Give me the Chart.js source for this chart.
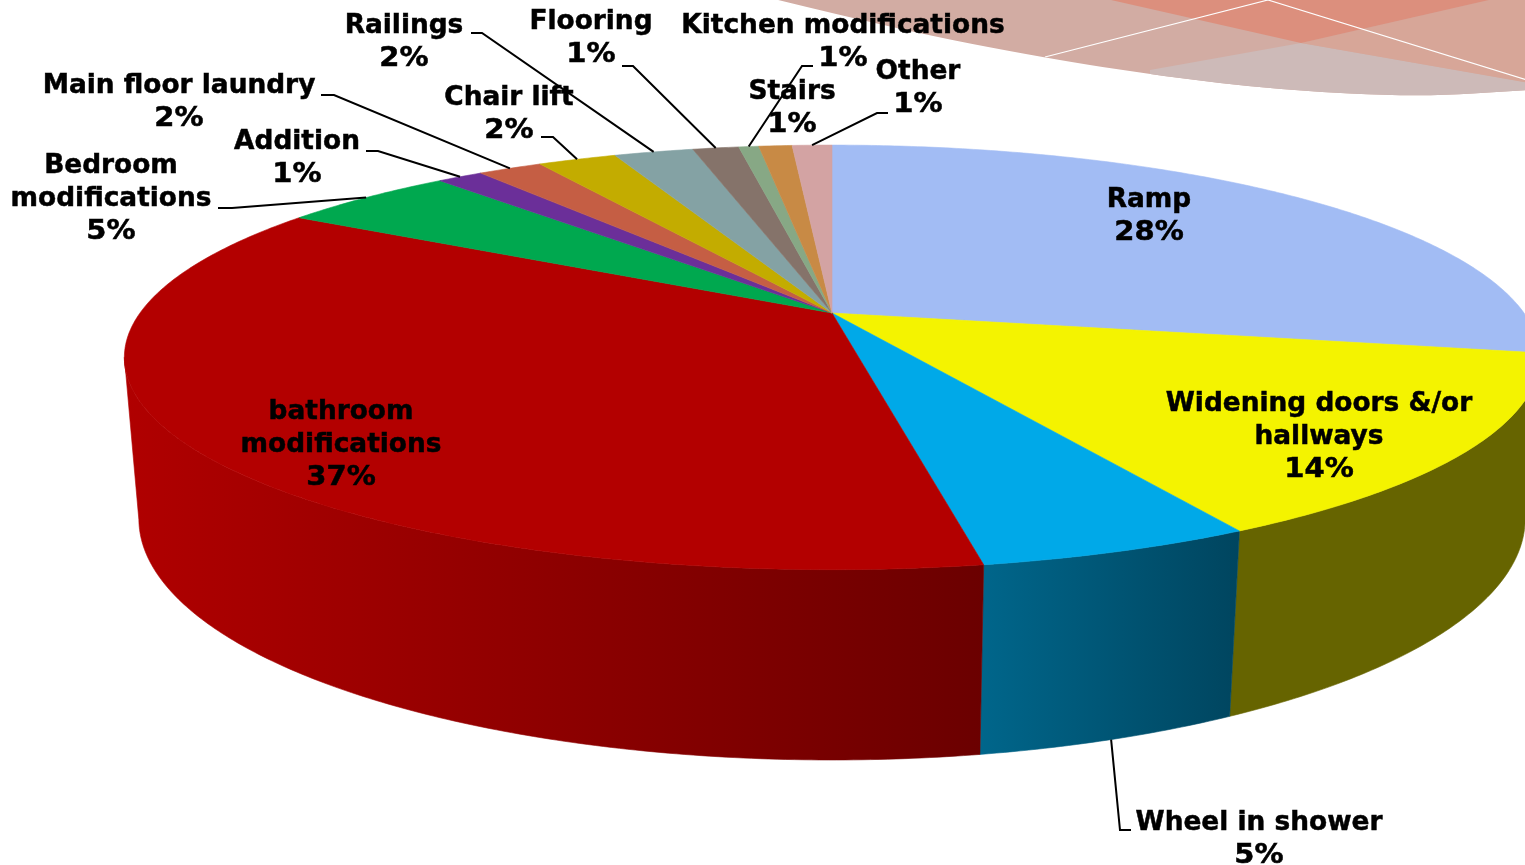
<!DOCTYPE html>
<html>

<head>
    <title>Home modifications</title>
    <style type="text/css">
        body {
            margin: 0;
            background: #fff;
        }

        canvas {
            display: block;
        }
    </style>
    <script src="https://cdn.jsdelivr.net/npm/chart.js@4/dist/chart.umd.js"></script>
</head>

<body>
    <canvas id="pieChart" width="1525" height="865"></canvas>
    <script>
        // values, clockwise from 12 o'clock
        var categories = ['Ramp', 'Widening doors &/or\nhallways', 'Wheel in shower', 'bathroom\nmodifications',
            'Bedroom\nmodifications', 'Addition', 'Main floor laundry', 'Chair lift', 'Railings', 'Flooring',
            'Kitchen modifications', 'Stairs', 'Other'];
        var shares = [28.02, 14.0, 5.2, 36.5, 4.9, 1.28, 1.8, 2.2, 2.22, 1.29, 0.56, 0.93, 1.11];

        var topColors = ['#a2bcf4', '#f4f300', '#00a9e8', '#b30000', '#00a84f', '#6b2f99', '#c55e44',
            '#c3ac00', '#84a2a4', '#85736a', '#87a885', '#c88a45', '#d3a3a3'];
        // side wall colours, left end and right end
        var sideFrom = ['#61718f', '#666400', '#00668b', '#b00000', '#00652f', '#401c5c', '#763829',
            '#756700', '#4f6162', '#50453f', '#516550', '#785329', '#7f6262'];
        var sideTo = ['#61718f', '#666400', '#00455f', '#6b0000', '#00652f', '#401c5c', '#763829',
            '#756700', '#4f6162', '#50453f', '#516550', '#785329', '#7f6262'];

        // label centre and first line middle, then the leader elbow (none for labels on the pie)
        var labelX = [1149, 1319, 1259, 341, 111, 297, 179, 509, 404, 591, 843, 792, 918];
        var labelY = [200, 404, 823, 412, 166, 142, 86, 98, 26, 22, 26, 92, 72];
        var leaders = [null, null, [[1131, 830], [1120, 830]], null, [[218, 208], [232, 208]], [[366, 151], [378, 151]],
            [[321, 95], [334, 95]], [[541, 137], [553, 137]], [[471, 33], [482, 33]], [[622, 66], [633, 66]],
            [[813, 66], [802, 66]], null, [[888, 113], [877, 113]]];

        // perspective of the tilted disc
        var apexX = 832, apexY = 313, spanX = 692, spanY = 203, tilt = 0.209, wallH = 159.5, wallShrink = 0.02;

        function project(angle, wall) {
            var u = Math.cos(angle), v = -Math.sin(angle);
            var d = 1 + tilt * v + (wall ? wallShrink : 0);
            return [apexX + spanX * u / d, apexY + (-spanY * v + (wall ? wallH : 0)) / d];
        }

        function rimPoints(start, end, wall) {
            var pts = [];
            var steps = Math.max(2, Math.ceil((end - start) / 0.01));
            for (var i = 0; i <= steps; i++) {
                pts.push(project(start + (end - start) * i / steps, wall));
            }
            return pts;
        }

        function drawBackdrop(ctx) {
            // slide decoration behind the chart, top right
            var edge = [[770, -2], [900, 30], [1045, 58], [1160, 76], [1280, 90], [1420, 97], [1525, 90]];
            ctx.save();
            ctx.beginPath();
            ctx.moveTo(edge[0][0], edge[0][1]);
            for (var i = 1; i < edge.length - 1; i++) {
                ctx.quadraticCurveTo(edge[i][0], edge[i][1], (edge[i][0] + edge[i + 1][0]) / 2, (edge[i][1] + edge[i + 1][1]) / 2);
            }
            ctx.lineTo(1530, 90);
            ctx.lineTo(1530, -2);
            ctx.closePath();
            ctx.clip();
            ctx.fillStyle = '#d2aca3';
            ctx.fillRect(760, 0, 770, 100);
            ctx.fillStyle = '#cdbab8';
            ctx.beginPath();
            ctx.moveTo(1150, 70); ctx.lineTo(1301, 43); ctx.lineTo(1525, 82); ctx.lineTo(1525, 100); ctx.lineTo(1150, 100);
            ctx.fill();
            ctx.fillStyle = '#d7a698';
            ctx.beginPath();
            ctx.moveTo(1301, 43); ctx.lineTo(1489, 0); ctx.lineTo(1530, 0); ctx.lineTo(1530, 83);
            ctx.fill();
            ctx.fillStyle = '#dc8f7d';
            ctx.beginPath();
            ctx.moveTo(1111, 0); ctx.lineTo(1301, 43); ctx.lineTo(1489, 0);
            ctx.fill();
            ctx.strokeStyle = '#fff';
            ctx.lineWidth = 1.2;
            ctx.beginPath();
            ctx.moveTo(1045, 57); ctx.lineTo(1268, 0); ctx.lineTo(1530, 81);
            ctx.stroke();
            ctx.restore();
        }

        function drawWalls(ctx, arcs) {
            arcs.forEach(function (arc, i) {
                // only the part of the rim facing us, silhouette to silhouette
                var from = Math.max(arc.startAngle, 0.21);
                var to = Math.min(arc.endAngle, Math.PI - 0.21);
                if (to <= from) return;
                var upper = rimPoints(from, to, false);
                var lower = rimPoints(from, to, true);
                var xs = upper.concat(lower).map(function (p) { return p[0]; });
                var grad = ctx.createLinearGradient(Math.min.apply(null, xs), 0, Math.max.apply(null, xs), 0);
                grad.addColorStop(0, sideFrom[i]);
                grad.addColorStop(1, sideTo[i]);
                ctx.fillStyle = grad;
                ctx.strokeStyle = grad;
                ctx.lineWidth = 0.6;
                ctx.beginPath();
                upper.forEach(function (p, n) { n ? ctx.lineTo(p[0], p[1]) : ctx.moveTo(p[0], p[1]); });
                lower.reverse().forEach(function (p) { ctx.lineTo(p[0], p[1]); });
                ctx.closePath();
                ctx.fill();
                ctx.stroke();
            });
        }

        function drawTop(ctx, arcs) {
            arcs.forEach(function (arc, i) {
                ctx.fillStyle = topColors[i];
                ctx.strokeStyle = topColors[i];
                ctx.lineWidth = 0.6;
                ctx.beginPath();
                ctx.moveTo(apexX, apexY);
                rimPoints(arc.startAngle, arc.endAngle, false).forEach(function (p) { ctx.lineTo(p[0], p[1]); });
                ctx.closePath();
                ctx.fill();
                ctx.stroke();
            });
        }

        function drawLabels(ctx, arcs) {
            ctx.strokeStyle = '#000';
            ctx.lineWidth = 2;
            leaders.forEach(function (elbow, i) {
                if (!elbow) return;
                var mid = (arcs[i].startAngle + arcs[i].endAngle) / 2;
                var end = project(mid, i === 2);
                ctx.beginPath();
                ctx.moveTo(elbow[0][0], elbow[0][1]);
                ctx.lineTo(elbow[1][0], elbow[1][1]);
                ctx.lineTo(end[0], end[1]);
                ctx.stroke();
            });

            ctx.fillStyle = '#000';
            ctx.font = 'bold 26.4px "DejaVu Sans"';
            ctx.textAlign = 'center';
            ctx.textBaseline = 'middle';
            ctx.lineWidth = 0.5;
            categories.forEach(function (name, i) {
                var lines = name.split('\n');
                lines.forEach(function (line, n) {
                    ctx.fillText(line, labelX[i], labelY[i] + n * 33);
                    ctx.strokeText(line, labelX[i], labelY[i] + n * 33);
                });
                // the percent line runs a little wider than the names
                ctx.save();
                ctx.translate(labelX[i], labelY[i] + lines.length * 33);
                ctx.scale(1.1, 1);
                ctx.fillText(Math.round(shares[i]) + '%', 0, 0);
                ctx.strokeText(Math.round(shares[i]) + '%', 0, 0);
                ctx.restore();
            });
        }

        var tiltedPie = {
            id: 'tiltedPie',
            beforeDatasetDraw: function (chart) {
                var ctx = chart.ctx;
                var arcs = chart.getDatasetMeta(0).data;
                drawBackdrop(ctx);
                drawWalls(ctx, arcs);
                drawTop(ctx, arcs);
                drawLabels(ctx, arcs);
                return false;
            }
        };

        new Chart(document.getElementById('pieChart').getContext('2d'), {
            type: 'pie',
            data: {
                labels: categories,
                datasets: [{ data: shares, backgroundColor: topColors, borderWidth: 0 }]
            },
            options: {
                responsive: false,
                animation: false,
                plugins: { legend: { display: false }, tooltip: { enabled: false } }
            },
            plugins: [tiltedPie]
        });
    </script>
</body>

</html>
